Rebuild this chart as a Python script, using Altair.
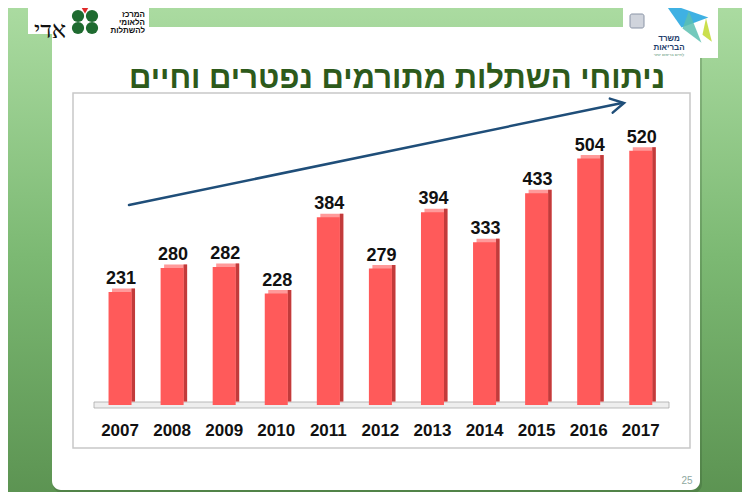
import altair as alt
import pandas as pd

# ---------------- data ----------------
years = ["2007", "2008", "2009", "2010", "2011", "2012", "2013", "2014", "2015", "2016", "2017"]
values = [231, 280, 282, 228, 384, 279, 394, 333, 433, 504, 520]
title_text = "ניתוחי השתלות מתורמים נפטרים וחיים"
page_number = "25"

df = pd.DataFrame({"year": years, "value": values})
one = pd.DataFrame({"k": [0]})

O = 8  # page margin


def px(v):
    return v - O


FONT = "Liberation Sans"


def rect(x, x2, y, y2, **kw):
    return alt.Chart(one).mark_rect(**kw).encode(
        x=alt.value(px(x)), x2=alt.value(px(x2)), y=alt.value(px(y)), y2=alt.value(px(y2))
    )


def label(txt, x, y, **kw):
    return alt.Chart(one).mark_text(text=txt, **kw).encode(x=alt.value(px(x)), y=alt.value(px(y)))


def dot(x, y, **kw):
    return alt.Chart(one).mark_point(**kw).encode(x=alt.value(px(x)), y=alt.value(px(y)))


# ---------------- background ----------------
bg = rect(0, 760, 0, 510, color=alt.LinearGradient(
    gradient="linear", x1=0, y1=0, x2=0, y2=1,
    stops=[alt.GradientStop(color="#acdca2", offset=0),
           alt.GradientStop(color="#7cb973", offset=0.5),
           alt.GradientStop(color="#5a9150", offset=1)]))

shadow = rect(53, 702, 29, 493, color="#2f4f2a", opacity=0.25, cornerRadius=9)
card = rect(52, 700, 27, 490, color="white", cornerRadius=9)
box = rect(73, 690, 93, 448, fill="white", stroke="#c8c8c8", strokeWidth=1.5)

# ---------------- logos ----------------
leaf = dict(shape="circle", size=150, filled=True, color="#1f6b30", opacity=1)
left_logo = [
    rect(28, 149, 0, 34, color="white"),
    label("אדי", 50, 31, fontSize=24, font="DejaVu Serif", color="#111111", align="center"),
    dot(78, 16, **leaf),
    dot(92, 16, **leaf),
    dot(78, 28, **leaf),
    dot(92, 28, **leaf),
    dot(85, 10, shape="triangle-down", size=70, filled=True, color="#e02a2a", opacity=1),
    label("המרכז", 145, 15, fontSize=8, fontWeight="bold", font=FONT, color="#111111", align="right"),
    label("הלאומי", 145, 23, fontSize=8, fontWeight="bold", font=FONT, color="#111111", align="right"),
    label("להשתלות", 145, 31, fontSize=8, fontWeight="bold", font=FONT, color="#111111", align="right"),
]

right_logo = [
    rect(623, 718, 0, 58, color="white"),
    rect(630, 644, 14, 28, color="#d0d4dc", stroke="#8a94a6", strokeWidth=1, cornerRadius=2),
    dot(686, 22, shape="M -1 -0.9 L 1 -0.2 L -0.2 0.25 Z", size=2000, filled=True, color="#2aa9e0", opacity=0.9),
    dot(692, 27, shape="M -0.2 -1 L 0.6 1 L -0.6 0.1 Z", size=1000, filled=True, color="#5cc0b0", opacity=0.85),
    dot(706, 30, shape="M 0 -1 L 0.5 1 L -0.3 0.4 Z", size=550, filled=True, color="#c5dc3a", opacity=0.9),
    label("משרד", 669, 39, fontSize=8, fontWeight="bold", font=FONT, color="#1d3d6b", align="center"),
    label("הבריאות", 669, 48, fontSize=8, fontWeight="bold", font=FONT, color="#1d3d6b", align="center"),
    label("לחיים בריאים יותר", 669, 55, fontSize=4, font=FONT, color="#4a8a6a", align="center"),
]

# ---------------- title ----------------
title = label(title_text, 397, 79, fontSize=31, fontWeight="bold", font=FONT, color="#2d5a1b", align="center")

# ---------------- bars ----------------
xs = alt.X("year:O", sort=years,
           scale=alt.Scale(domain=years, range=[px(94), px(666.8)], paddingInner=0, paddingOuter=0),
           axis=None)
ys = alt.Y("value:Q", scale=alt.Scale(domain=[0, 600], range=[px(405), px(405 - 600 * 0.489)]), axis=None)

floor = rect(94, 669, 402, 408, fill="#eeeeee", stroke="#a9a9a9", strokeWidth=0.8)

base = alt.Chart(df)
bar_top = base.mark_bar(size=23, xOffset=3.5, yOffset=-3.5, color="#ff9a9a").encode(x=xs, y=ys)
bar_side = base.mark_bar(size=3.5, xOffset=13.25, yOffset=-3.5, color="#c23b3b").encode(x=xs, y=ys)
bar_front = base.mark_bar(size=23, color="#ff5a5a").encode(x=xs, y=ys)

value_text = base.mark_text(fontSize=18, fontWeight="bold", font=FONT, color="#111111",
                            dy=-8, baseline="alphabetic", dx=1).encode(
    x=xs, y=ys, text=alt.Text("value:Q"))

year_text = base.mark_text(fontSize=17, fontWeight="bold", font=FONT, color="#111111",
                           baseline="alphabetic").encode(
    x=xs, y=alt.value(px(436)), text=alt.Text("year:N"))

# ---------------- arrow ----------------
arrow_line = alt.Chart(one).mark_rule(color="#1f4e79", strokeWidth=2.5, strokeCap="round").encode(
    x=alt.value(px(129)), y=alt.value(px(205)), x2=alt.value(px(622)), y2=alt.value(px(103)))
arrow_head = dot(624, 103, shape="M -1 -0.55 L 0 0 L -1 0.55", size=676, filled=False,
                 angle=348.4, strokeWidth=2.5, color="#1f4e79", opacity=1, strokeCap="round")

page_num = label(page_number, 687, 481, fontSize=10, font=FONT, color="#8fa8a0", align="center")

chart = alt.layer(
    bg, shadow, card, *left_logo, *right_logo, title, box, floor,
    bar_top, bar_side, bar_front, value_text, year_text, arrow_line, arrow_head, page_num
).properties(
    width=734, height=484,
    autosize=alt.AutoSizeParams(type="none"),
    padding=0,
).configure_view(stroke=None)

chart.save("out.html", embed_options={"renderer": "svg", "actions": False})
